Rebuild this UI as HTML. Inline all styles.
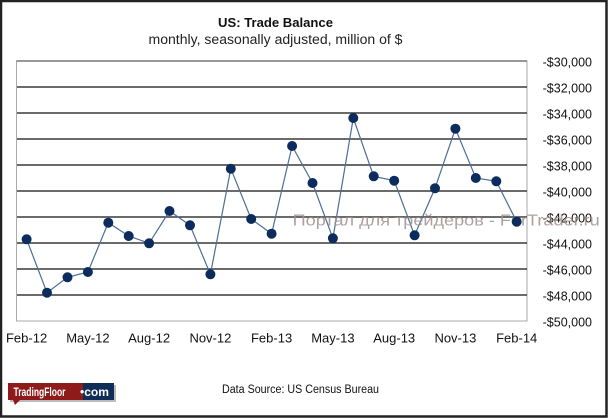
<!DOCTYPE html>
<html><head><meta charset="utf-8"><style>
html,body{margin:0;padding:0;background:#fff;}
svg{display:block;}
text{font-family:"Liberation Sans","DejaVu Sans",sans-serif;}
</style></head><body>
<svg width="608" height="418" viewBox="0 0 608 418" xmlns="http://www.w3.org/2000/svg">
<rect x="0" y="0" width="608" height="418" fill="#fff"/>
<!-- titles -->
<text x="275.5" y="27" font-size="13" font-weight="bold" fill="#111" text-anchor="middle" textLength="115" lengthAdjust="spacingAndGlyphs">US: Trade Balance</text>
<text x="275.5" y="44" font-size="13.5" fill="#222" text-anchor="middle" textLength="254" lengthAdjust="spacingAndGlyphs">monthly, seasonally adjusted, million of $</text>
<!-- plot frame -->
<rect x="16.5" y="61" width="510.5" height="260" fill="#fff" stroke="#aaa" stroke-width="1"/>
<line x1="16.5" y1="61" x2="527" y2="61" stroke="#777" stroke-width="1.5"/>
<g stroke="#3a3a3a" stroke-width="1.5">
<line x1="17" y1="87" x2="527" y2="87"/>
<line x1="17" y1="113" x2="527" y2="113"/>
<line x1="17" y1="139" x2="527" y2="139"/>
<line x1="17" y1="165" x2="527" y2="165"/>
<line x1="17" y1="191" x2="527" y2="191"/>
<line x1="17" y1="217" x2="527" y2="217"/>
<line x1="17" y1="243" x2="527" y2="243"/>
<line x1="17" y1="269" x2="527" y2="269"/>
<line x1="17" y1="295" x2="527" y2="295"/>
</g>
<!-- y labels -->
<g font-size="12.5" fill="#111" text-anchor="end">
<text x="592" y="66.5">-$30,000</text>
<text x="592" y="92.5">-$32,000</text>
<text x="592" y="118.5">-$34,000</text>
<text x="592" y="144.5">-$36,000</text>
<text x="592" y="170.5">-$38,000</text>
<text x="592" y="196.5">-$40,000</text>
<text x="592" y="222.5">-$42,000</text>
<text x="592" y="248.5">-$44,000</text>
<text x="592" y="274.5">-$46,000</text>
<text x="592" y="300.5">-$48,000</text>
<text x="592" y="326.5">-$50,000</text>
</g>
<!-- x labels -->
<g font-size="13" fill="#111" text-anchor="middle">
<text x="26.6" y="342.5">Feb-12</text>
<text x="87.9" y="342.5">May-12</text>
<text x="149.1" y="342.5">Aug-12</text>
<text x="210.4" y="342.5">Nov-12</text>
<text x="271.6" y="342.5">Feb-13</text>
<text x="332.9" y="342.5">May-13</text>
<text x="394.2" y="342.5">Aug-13</text>
<text x="455.4" y="342.5">Nov-13</text>
<text x="516.7" y="342.5">Feb-14</text>
</g>
<!-- series -->
<polyline fill="none" stroke="#4d6d96" stroke-width="1.2" points="26.6,239.3 47.0,292.7 67.5,277.3 87.9,272 108.3,222.7 128.7,236 149.1,243.3 169.5,211 190.0,225.3 210.4,274.3 230.8,168.7 251.2,219 271.6,233.7 292.1,146 312.5,183 332.9,238.3 353.3,118 373.7,176.3 394.2,180.7 414.6,235.3 435.0,188.3 455.4,128.7 475.8,178 496.3,181.3 516.7,221.7"/>
<!-- watermark -->
<text x="292.7" y="225.5" font-size="16" fill="#a08f8f" fill-opacity="0.85" textLength="307" lengthAdjust="spacingAndGlyphs">Портал для трейдеров - ForTrader.ru</text>
<g fill="#0b2c5c">
<circle cx="26.6" cy="239.3" r="5"/><circle cx="47.0" cy="292.7" r="5"/><circle cx="67.5" cy="277.3" r="5"/><circle cx="87.9" cy="272" r="5"/><circle cx="108.3" cy="222.7" r="5"/><circle cx="128.7" cy="236" r="5"/><circle cx="149.1" cy="243.3" r="5"/><circle cx="169.5" cy="211" r="5"/><circle cx="190.0" cy="225.3" r="5"/><circle cx="210.4" cy="274.3" r="5"/><circle cx="230.8" cy="168.7" r="5"/><circle cx="251.2" cy="219" r="5"/><circle cx="271.6" cy="233.7" r="5"/><circle cx="292.1" cy="146" r="5"/><circle cx="312.5" cy="183" r="5"/><circle cx="332.9" cy="238.3" r="5"/><circle cx="353.3" cy="118" r="5"/><circle cx="373.7" cy="176.3" r="5"/><circle cx="394.2" cy="180.7" r="5"/><circle cx="414.6" cy="235.3" r="5"/><circle cx="435.0" cy="188.3" r="5"/><circle cx="455.4" cy="128.7" r="5"/><circle cx="475.8" cy="178" r="5"/><circle cx="496.3" cy="181.3" r="5"/><circle cx="516.7" cy="221.7" r="5"/>
</g>
<!-- data source -->
<text x="300.5" y="393" font-size="11.5" fill="#111" text-anchor="middle" textLength="157" lengthAdjust="spacingAndGlyphs">Data Source: US Census Bureau</text>
<!-- logo -->
<rect x="10" y="385" width="106" height="17" fill="#bbb"/>
<rect x="8" y="383" width="75" height="17" fill="#8e1a1a"/>
<rect x="83" y="383" width="31" height="17" fill="#0f2d57"/>
<polygon points="13,400 20,400 15,405" fill="#8e1a1a"/>
<text x="13.5" y="396" font-size="11.5" font-weight="bold" fill="#fff" textLength="52" lengthAdjust="spacingAndGlyphs">TradingFloor</text>
<text x="80" y="396" font-size="11.5" font-weight="bold" fill="#fff" textLength="29" lengthAdjust="spacingAndGlyphs">•com</text>
<!-- outer frame -->
<rect x="1" y="1" width="605.5" height="415.5" fill="none" stroke="#222" stroke-width="2.5"/>
</svg>
</body></html>
